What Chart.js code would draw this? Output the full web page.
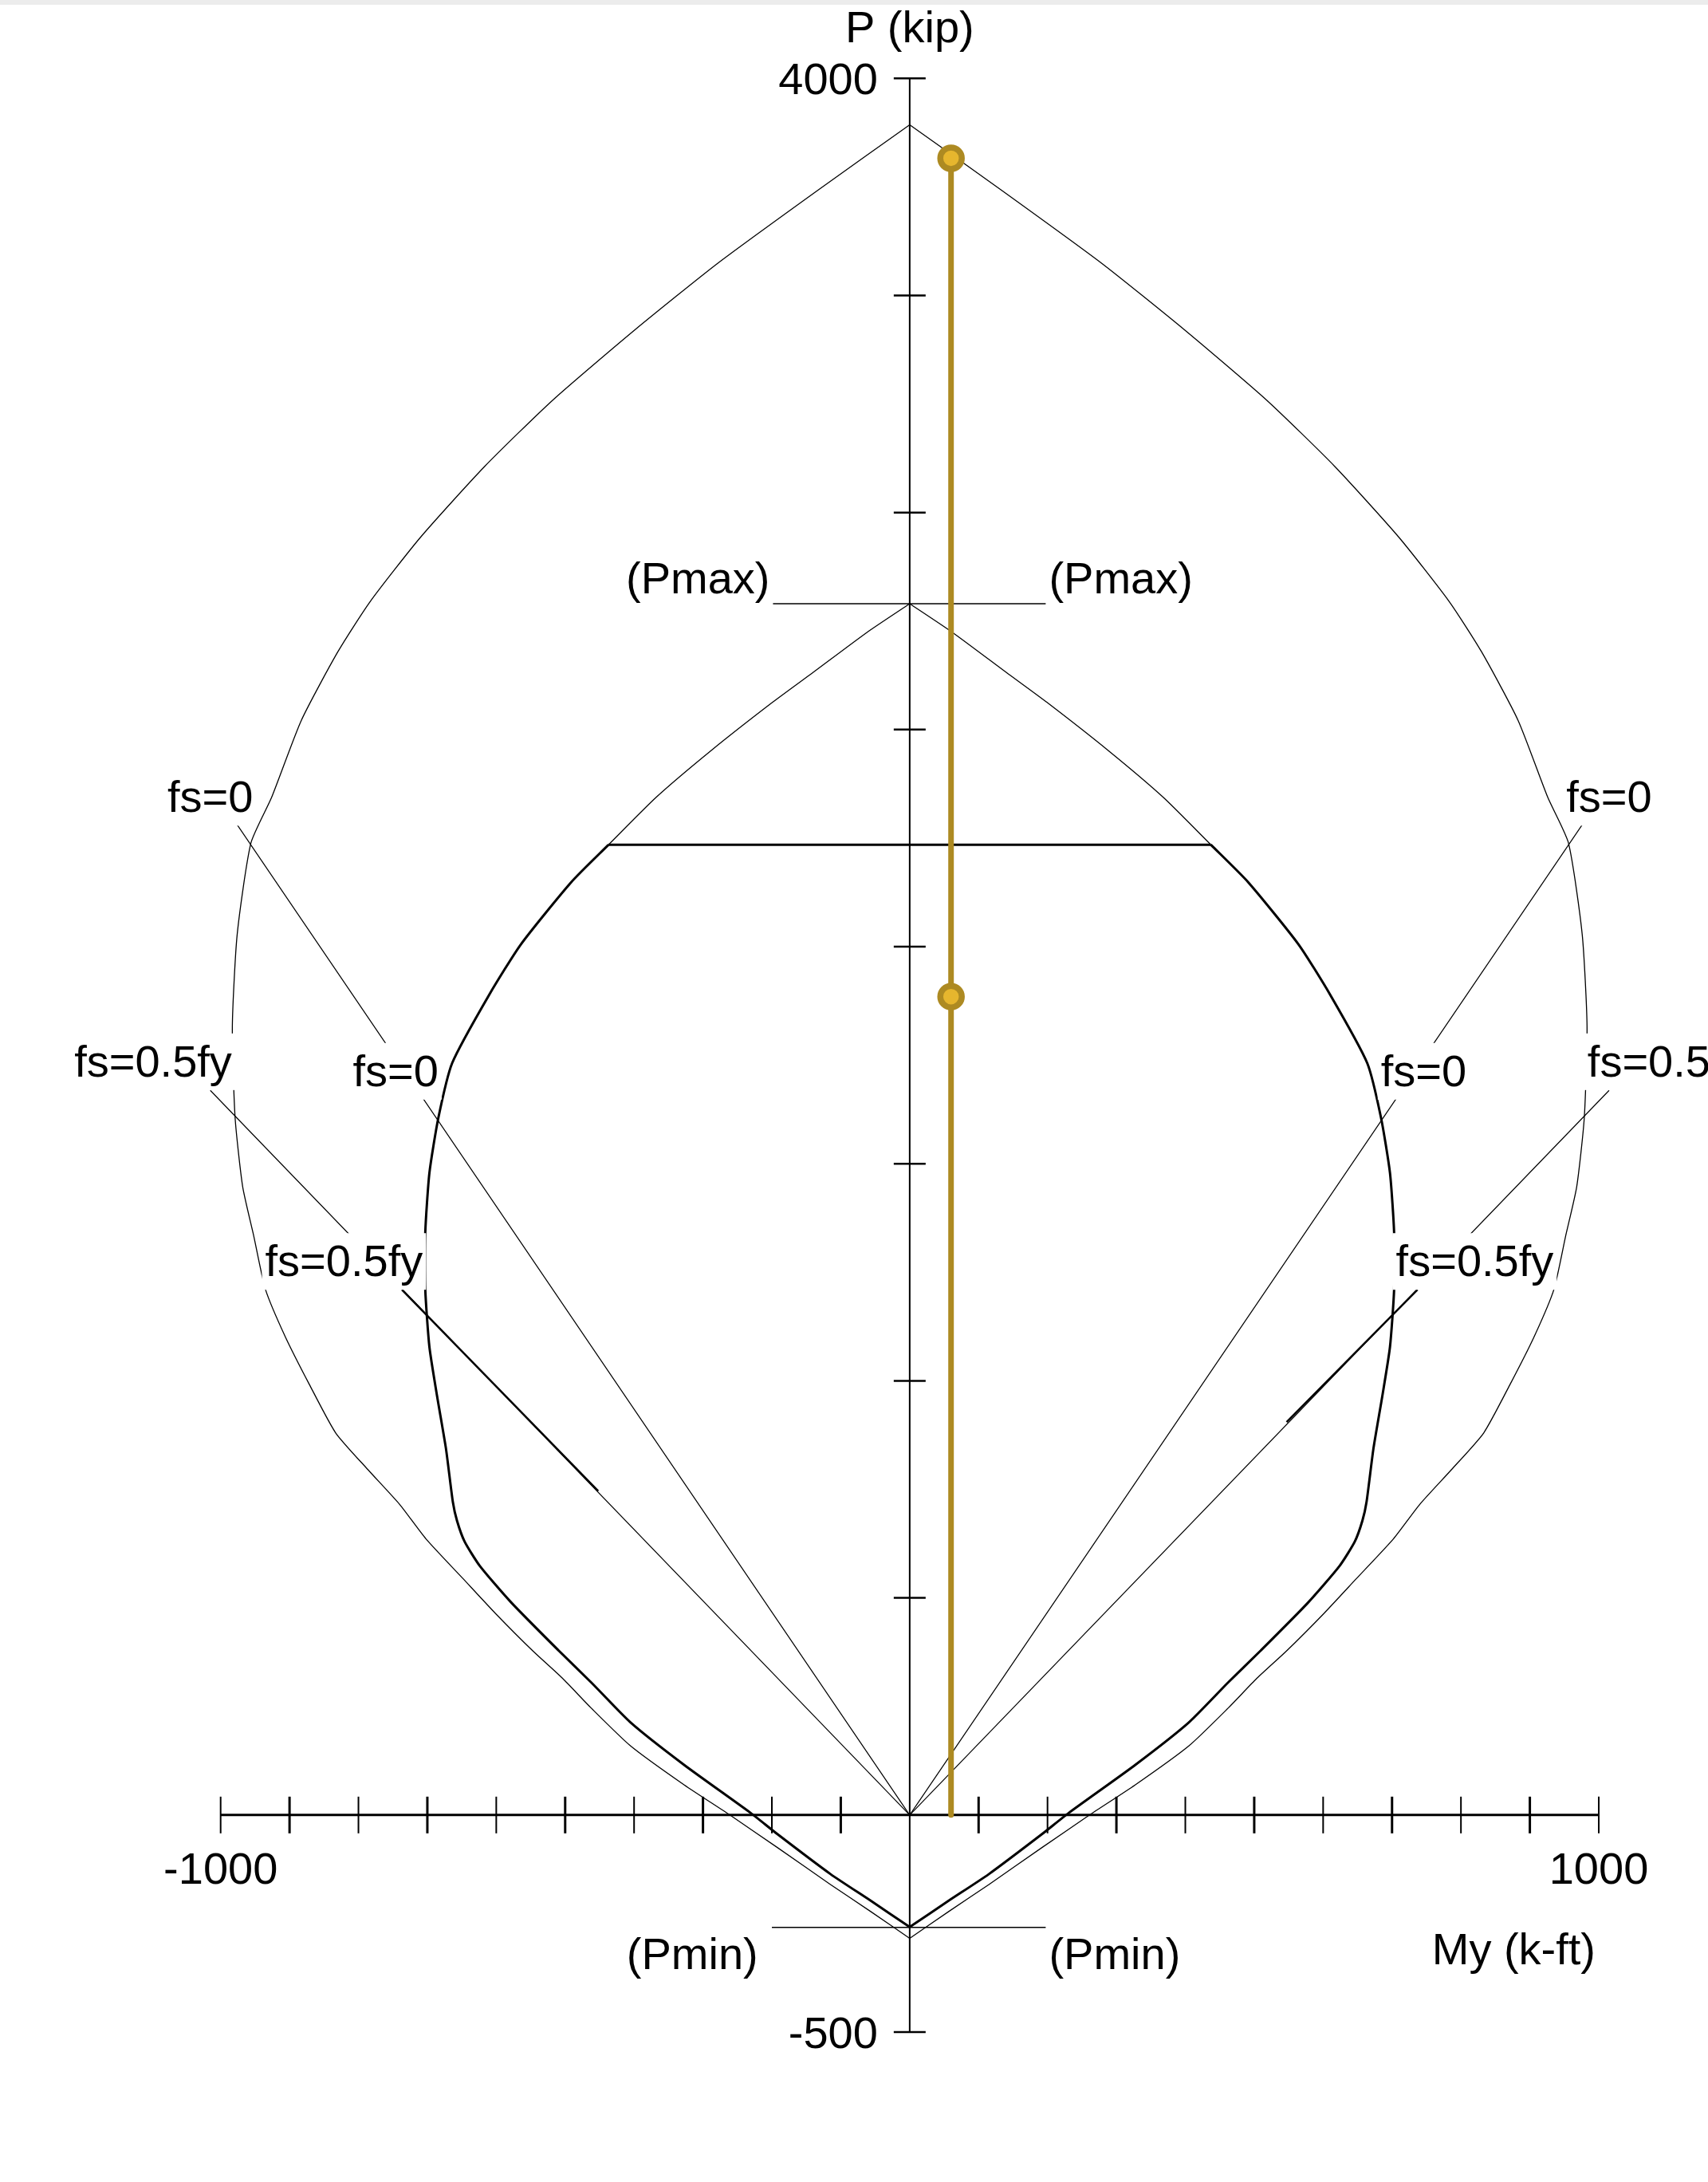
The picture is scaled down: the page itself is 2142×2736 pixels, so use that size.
<!DOCTYPE html>
<html>
<head>
<meta charset="utf-8">
<title>P-M interaction diagram</title>
<script src="https://cdn.jsdelivr.net/npm/chart.js@4.4.1/dist/chart.umd.min.js"></script>
<style>
  html, body { margin: 0; padding: 0; background: #fff; }
  #wrap { position: relative; width: 2142px; height: 2736px; overflow: hidden; }
  #chart { display: block; }
  #topbar { position: absolute; left: 0; top: 0; width: 2142px; height: 6px; background: #ececec; }
</style>
</head>
<body>
<div id="wrap">
  <canvas id="chart" width="2142" height="2736"></canvas>
  <div id="topbar"></div>
</div>
<script>
// nominal capacity curve (thin), right half and left half, top to bottom
const nominalRightM = [0, 132, 278, 398, 518, 617, 710, 783, 830, 883, 926, 956, 976, 983, 979, 968, 952, 935, 906, 871, 833, 786, 740, 702, 648, 601, 547, 504, 462, 405, 327, 261, 192, 115, 57, 0];
const nominalRightP = [3893, 3744, 3575, 3422, 3259, 3106, 2943, 2795, 2679, 2521, 2344, 2239, 2028, 1817, 1606, 1447, 1334, 1211, 1101, 991, 880, 795, 715, 636, 544, 464, 378, 315, 246, 159, 69, 0, -75, -160, -222, -284];
const nominalLeftM = [0, -132, -278, -398, -518, -617, -710, -783, -830, -883, -926, -956, -976, -983, -979, -968, -952, -935, -906, -871, -833, -786, -740, -702, -648, -601, -547, -504, -462, -405, -327, -261, -192, -115, -57, 0];
const nominalLeftP = [3893, 3744, 3575, 3422, 3259, 3106, 2943, 2795, 2679, 2521, 2344, 2239, 2028, 1817, 1606, 1447, 1334, 1211, 1101, 991, 880, 795, 715, 636, 544, 464, 378, 315, 246, 159, 69, 0, -75, -160, -222, -284];

// factored curve above the Pmax cap (thin), from the peak down to the cap ends
const upperRightM = [0, 62, 140, 199, 288, 368, 437];
const upperRightP = [2790, 2724, 2632, 2563, 2452, 2344, 2235];
const upperLeftM = [0, -62, -140, -199, -288, -368, -437];
const upperLeftP = [2790, 2724, 2632, 2563, 2452, 2344, 2235];

// design curve (thick): cap, then each side from the cap end down to Pmin
const capM = [-437, 437];
const capP = [2235, 2235];
const designRightM = [437, 491, 564, 610, 664, 684, 697, 703, 703, 697, 686, 673, 663, 657, 646, 624, 578, 509, 462, 405, 327, 231, 192, 115, 57, 0];
const designRightP = [2235, 2149, 2006, 1890, 1732, 1606, 1479, 1342, 1210, 1078, 966, 844, 721, 678, 630, 574, 489, 378, 305, 213, 115, 5, -44, -136, -197, -258];
const designLeftM = [-437, -491, -564, -610, -664, -684, -697, -703, -703, -697, -686, -673, -663, -657, -646, -624, -578, -509, -462, -405, -327, -231, -192, -115, -57, 0];
const designLeftP = [2235, 2149, 2006, 1890, 1732, 1606, 1479, 1342, 1210, 1078, 966, 844, 721, 678, 630, 574, 489, 378, 305, 213, 115, 5, -44, -136, -197, -258];

// radial lines from the origin
const fs0M = [-976, 0, 976];
const fs0P = [2281, 0, 2281];
const fsHalfM = [-1015, 0, 1015];
const fsHalfP = [1669, 0, 1669];
const fsHalfBoldRightM = [737, 547];
const fsHalfBoldRightP = [1210, 905];
const fsHalfBoldLeftM = [-737, -452];
const fsHalfBoldLeftP = [1210, 746];

const pmaxM = [-200, 200];
const pmaxP = [2790, 2790];
const pminM = [-200, 200];
const pminP = [-259, -259];

// load points
const loadM = [60, 60];
const loadP = [3816, 1885];
const loadLineM = [60, 60];
const loadLineP = [0, 3816];

const xTickValues = [-1000, -900, -800, -700, -600, -500, -400, -300, -200, -100, 100, 200, 300, 400, 500, 600, 700, 800, 900, 1000];
const yTickValues = [-500, 500, 1000, 1500, 2000, 2500, 3000, 3500, 4000];
const xTickLabels = ['-1000', '1000'];
const xTickLabelValues = [-1000, 1000];
const yTickLabels = ['-500', '4000'];
const yTickLabelValues = [-500, 4000];

const notes = [
  { text: 'fs=0', m: -1015, p: 2310, align: 'center' },
  { text: 'fs=0', m: 1015, p: 2310, align: 'center' },
  { text: 'fs=0', m: -746, p: 1679, align: 'center' },
  { text: 'fs=0', m: 746, p: 1679, align: 'center' },
  { text: 'fs=0.5fy', m: -1098, p: 1701, align: 'center' },
  { text: 'fs=0.5fy', m: 1098, p: 1701, align: 'center' },
  { text: 'fs=0.5fy', m: -821, p: 1241, align: 'center' },
  { text: 'fs=0.5fy', m: 820, p: 1241, align: 'center' },
  { text: '(Pmax)', m: -203, p: 2813, align: 'right' },
  { text: '(Pmax)', m: 202, p: 2813, align: 'left' },
  { text: '(Pmin)', m: -220, p: -355, align: 'right' },
  { text: '(Pmin)', m: 202, p: -355, align: 'left' }
];

const FONT = '56px "Liberation Sans", Arial, sans-serif';
const GOLD = '#ad8a22';

function pts(ms, ps) {
  return ms.map((m, i) => ({ x: m, y: ps[i] }));
}

function line(ms, ps, width, tension) {
  return {
    data: pts(ms, ps),
    showLine: true,
    borderColor: '#000',
    borderWidth: width,
    tension: tension || 0,
    pointRadius: 0,
    borderJoinStyle: 'round',
    fill: false,
    clip: false
  };
}

const axesPlugin = {
  id: 'axes',
  beforeDatasetsDraw(chart) {
    const { ctx } = chart;
    const x = chart.scales.x, y = chart.scales.y;
    const x0 = x.getPixelForValue(0), y0 = y.getPixelForValue(0);
    ctx.save();
    ctx.strokeStyle = '#000';

    // horizontal axis
    ctx.lineWidth = 3;
    ctx.beginPath();
    ctx.moveTo(x.getPixelForValue(xTickValues[0]), y0);
    ctx.lineTo(x.getPixelForValue(xTickValues[xTickValues.length - 1]), y0);
    ctx.stroke();
    xTickValues.forEach(v => {
      const px = x.getPixelForValue(v);
      ctx.lineWidth = (Math.abs(v) / 100) % 2 === 1 ? 3 : 2;
      ctx.beginPath();
      ctx.moveTo(px, y0 - 23);
      ctx.lineTo(px, y0 + 23);
      ctx.stroke();
    });

    // vertical axis
    ctx.lineWidth = 2;
    ctx.beginPath();
    ctx.moveTo(x0, y.getPixelForValue(yTickValues[0]));
    ctx.lineTo(x0, y.getPixelForValue(yTickValues[yTickValues.length - 1]));
    ctx.stroke();
    ctx.lineWidth = 2.5;
    yTickValues.forEach(v => {
      const py = y.getPixelForValue(v);
      ctx.beginPath();
      ctx.moveTo(x0 - 20, py);
      ctx.lineTo(x0 + 20, py);
      ctx.stroke();
    });

    // tick labels and titles
    ctx.fillStyle = '#000';
    ctx.font = FONT;
    ctx.textBaseline = 'alphabetic';
    ctx.textAlign = 'center';
    xTickLabels.forEach((t, i) => {
      ctx.fillText(t, x.getPixelForValue(xTickLabelValues[i]), y0 + 86);
    });
    ctx.textAlign = 'right';
    yTickLabels.forEach((t, i) => {
      ctx.fillText(t, x0 - 40, y.getPixelForValue(yTickLabelValues[i]) + 20);
    });
    ctx.textAlign = 'center';
    ctx.fillText('P (kip)', x0, y.getPixelForValue(4000) - 45);
    ctx.textAlign = 'right';
    ctx.fillText('My (k-ft)', x.getPixelForValue(1000) - 4, y0 + 187);
    ctx.restore();
  },
  afterDatasetsDraw(chart) {
    const { ctx } = chart;
    const x = chart.scales.x, y = chart.scales.y;
    ctx.save();
    ctx.font = FONT;
    ctx.textBaseline = 'alphabetic';
    notes.forEach(n => {
      const px = x.getPixelForValue(n.m), py = y.getPixelForValue(n.p);
      const w = ctx.measureText(n.text).width;
      let left = px;
      if (n.align === 'center') left = px - w / 2;
      if (n.align === 'right') left = px - w;
      // labels sit on a white box that interrupts the lines behind them
      ctx.fillStyle = '#fff';
      ctx.fillRect(left - 4, py - 54, w + 8, 71);
      ctx.fillStyle = '#000';
      ctx.textAlign = 'left';
      ctx.fillText(n.text, left, py);
    });
    ctx.restore();
  }
};

const datasets = [
  {
    data: pts(loadM, loadP),
    showLine: false,
    pointRadius: 13.5,
    pointBorderWidth: 7.5,
    pointBackgroundColor: '#e6b62e',
    pointBorderColor: GOLD,
    clip: false
  },
  {
    data: pts(loadLineM, loadLineP),
    showLine: true,
    borderColor: GOLD,
    borderWidth: 7,
    borderCapStyle: 'round',
    pointRadius: 0,
    clip: false
  },
  line(capM, capP, 3),
  line(designRightM, designRightP, 3, 0.2),
  line(designLeftM, designLeftP, 3, 0.2),
  line(fsHalfBoldRightM, fsHalfBoldRightP, 2.5),
  line(fsHalfBoldLeftM, fsHalfBoldLeftP, 2.5),
  line(upperRightM, upperRightP, 1.3, 0.2),
  line(upperLeftM, upperLeftP, 1.3, 0.2),
  line(nominalRightM, nominalRightP, 1.3, 0.2),
  line(nominalLeftM, nominalLeftP, 1.3, 0.2),
  line(fs0M, fs0P, 1.2),
  line(fsHalfM, fsHalfP, 1.2),
  line(pmaxM, pmaxP, 1.6),
  line(pminM, pminP, 1.6)
];

new Chart(document.getElementById('chart'), {
  type: 'scatter',
  data: { datasets: datasets },
  options: {
    responsive: false,
    animation: false,
    devicePixelRatio: 1,
    layout: { padding: { left: 276.7, right: 137, top: 98.3, bottom: 188 } },
    scales: {
      x: { type: 'linear', min: -1000, max: 1000, display: false },
      y: { type: 'linear', min: -500, max: 4000, display: false }
    },
    plugins: { legend: { display: false }, tooltip: { enabled: false } }
  },
  plugins: [axesPlugin]
});
</script>
</body>
</html>
